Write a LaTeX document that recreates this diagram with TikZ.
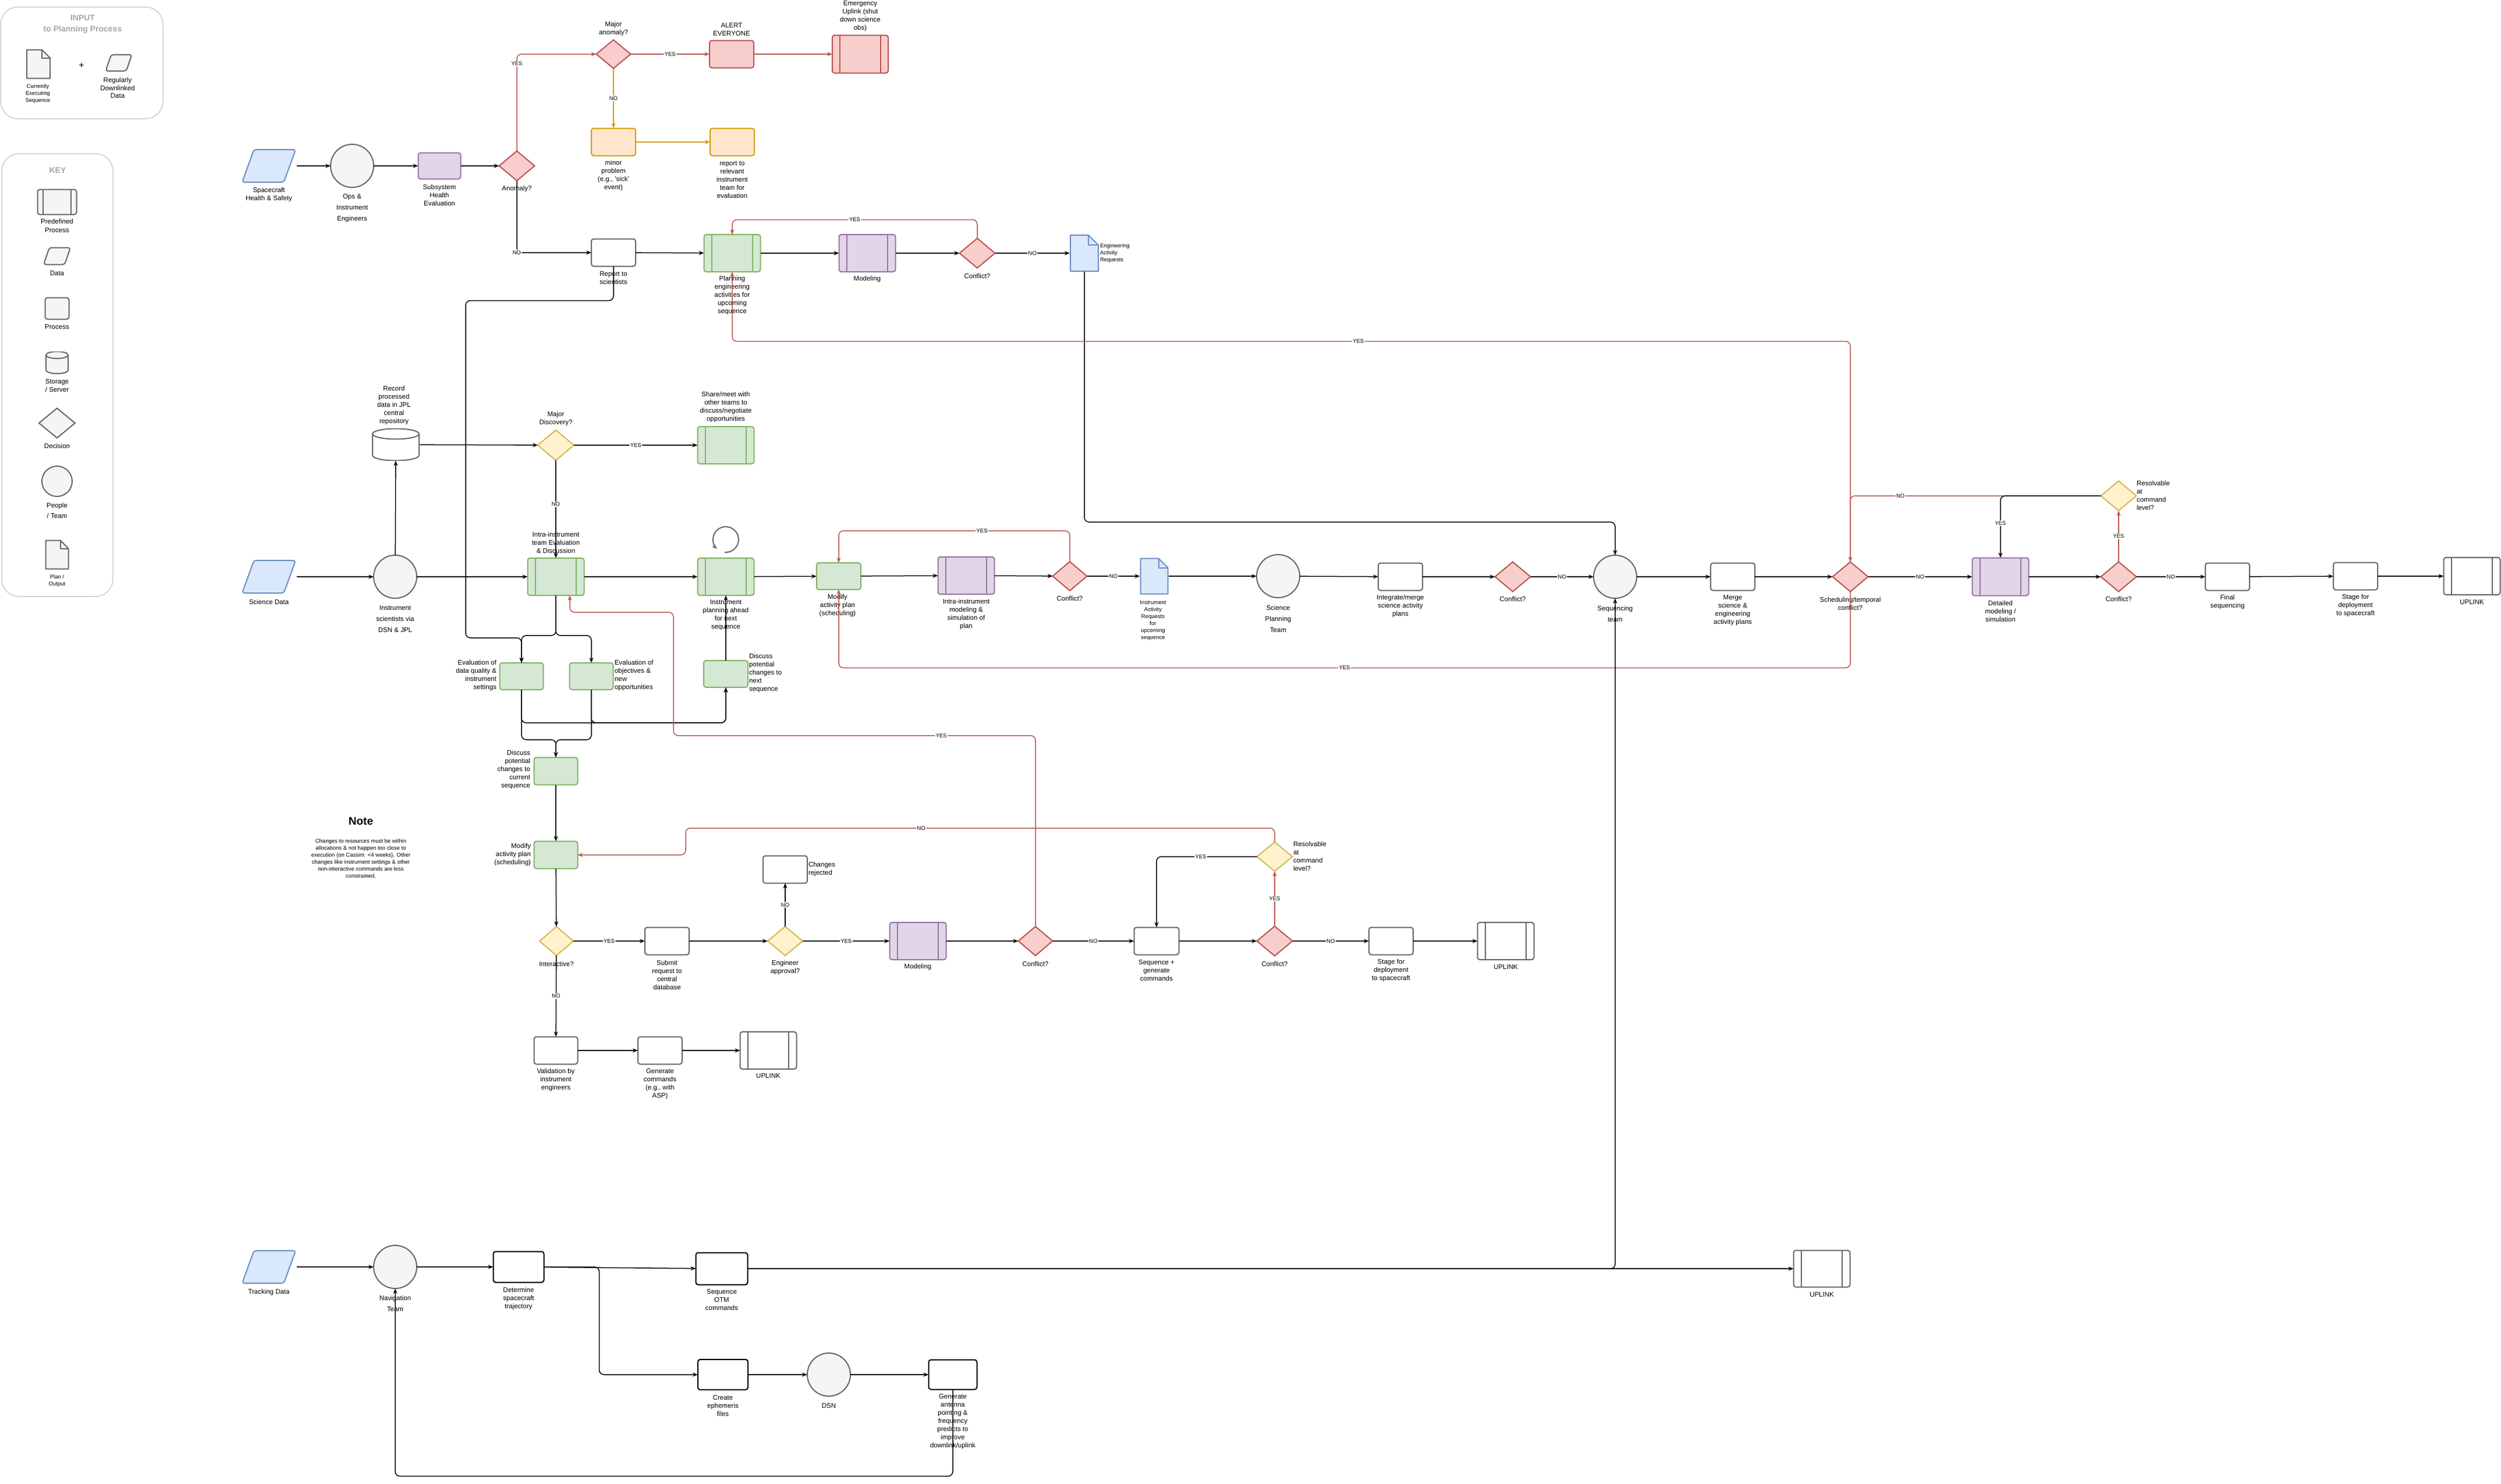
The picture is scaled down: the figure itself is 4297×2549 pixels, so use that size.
\documentclass[tikz,border=0pt]{standalone}
\usepackage{fontspec}
\setmainfont{Liberation Sans}
\usetikzlibrary{shapes.geometric,arrows.meta,calc}
\definecolor{blue1}{HTML}{DAE8FC}\definecolor{blue2}{HTML}{6C8EBF}
\definecolor{green1}{HTML}{D5E8D4}\definecolor{green2}{HTML}{82B366}
\definecolor{purple1}{HTML}{E1D5E7}\definecolor{purple2}{HTML}{9673A6}
\definecolor{red1}{HTML}{F8CECC}\definecolor{red2}{HTML}{B85450}
\definecolor{orange1}{HTML}{FFE6CC}\definecolor{orange2}{HTML}{D79B00}
\definecolor{yellow1}{HTML}{FFF2CC}\definecolor{yellow2}{HTML}{D6B656}
\definecolor{gray1}{HTML}{F5F5F5}\definecolor{gray2}{HTML}{666666}
\definecolor{keygray}{HTML}{CCCCCC}\definecolor{titlegray}{HTML}{A6A6A6}
\begin{document}
\begin{tikzpicture}[x=1pt,y=-1pt,inner sep=0pt,outer sep=0pt,
box/.style 2 args={rectangle,draw=#1,fill=#2,rounded corners=4pt,line width=2pt,minimum width=76pt,minimum height=47pt},
predef/.style 2 args={rectangle,draw=#1,fill=#2,rounded corners=4pt,line width=2pt,minimum width=97pt,minimum height=64pt,
  path picture={\draw[#1,line width=2pt]
    ($(path picture bounding box.north west)!0.135!(path picture bounding box.north east)$) -- ($(path picture bounding box.south west)!0.135!(path picture bounding box.south east)$)
    ($(path picture bounding box.north east)!0.135!(path picture bounding box.north west)$) -- ($(path picture bounding box.south east)!0.135!(path picture bounding box.south west)$);}},
decision/.style 2 args={diamond,draw=#1,fill=#2,line width=2pt,minimum width=61pt,minimum height=51pt},
team/.style={circle,draw=gray2,fill=gray1,line width=2pt,minimum size=74pt},
datashape/.style 2 args={rectangle,fill=white,minimum width=95pt,minimum height=59pt,path picture={
  \filldraw[draw=#1,fill=#2,line width=2pt,rounded corners=4pt,line join=round]
    ($(path picture bounding box.south west)+(1.5pt,1.5pt)$)
    -- ($(path picture bounding box.north west)!0.23!(path picture bounding box.north east)+(0pt,-1.5pt)$)
    -- ($(path picture bounding box.north east)+(-1.5pt,-1.5pt)$)
    -- ($(path picture bounding box.south east)!0.23!(path picture bounding box.south west)+(0pt,1.5pt)$) -- cycle;}},
store/.style n args={3}{rectangle,fill=white,minimum width=83pt,minimum height=55pt,path picture={
  \filldraw[draw=gray2,fill=#1,line width=2pt,line join=round]
    ($(path picture bounding box.north west)+(1.5pt,-#3)$) -- ($(path picture bounding box.south west)+(1.5pt,#3)$)
    arc[start angle=180,end angle=360,x radius=#2,y radius=#3]
    -- ($(path picture bounding box.north east)+(-1.5pt,-#3)$)
    arc[start angle=0,end angle=180,x radius=#2,y radius=#3] -- cycle;
  \draw[gray2,line width=2pt] ($(path picture bounding box.north west)+(1.5pt,-#3)$)
    arc[start angle=180,end angle=360,x radius=#2,y radius=#3];}},
page/.style n args={3}{rectangle,fill=white,path picture={
  \coordinate (pnw) at ([shift={(1pt,-1pt)}]path picture bounding box.north west);
  \coordinate (pne) at ([shift={(-1pt,-1pt)}]path picture bounding box.north east);
  \coordinate (pse) at ([shift={(-1pt,1pt)}]path picture bounding box.south east);
  \coordinate (psw) at ([shift={(1pt,1pt)}]path picture bounding box.south west);
  \filldraw[draw=#1,fill=#2,line width=2pt,line join=round] (pnw) -- ([xshift=-#3]pne) -- ([yshift=-#3]pne) -- (pse) -- (psw) -- cycle;
  \draw[#1,line width=2pt,line join=round] ([xshift=-#3]pne) -- ([shift={(-#3,-#3)}]pne) -- ([yshift=-#3]pne);}},
panel/.style={rectangle,draw=keygray,line width=1.5pt,rounded corners=30pt},
txt/.style={align=center,font=\fontsize{11.5}{14}\selectfont},
txtw/.style={align=center,font=\fontsize{11.5}{19}\selectfont},
txts/.style={align=center,font=\fontsize{9.5}{12}\selectfont},
yn/.style={fill=white,inner sep=1.5pt,font=\fontsize{9.5}{10}\selectfont},
flow/.style={-{Stealth[length=9pt,width=7pt]},line width=1.5pt,rounded corners=8pt},
redflow/.style={flow,draw=red2},
orangeflow/.style={flow,draw=orange2}]
\useasboundingbox (0,0) rectangle (4297,2549);

% input and key panels
\draw (140.5,108) node[panel,minimum width=279pt,minimum height=192pt] (input) {};
\draw (142,42) node[align=center,text=titlegray,font=\fontsize{14}{19}\selectfont\bfseries] (inputt) {INPUT\\to Planning Process};
\draw (66,110) node[page={gray2}{gray1}{14pt},minimum width=42pt,minimum height=51pt] (curseq) {};
\draw (65,161) node[txts] (curseql) {Currently\\Executing\\Sequence};
\draw (140,113) node[font=\fontsize{16}{16}\selectfont] (plus) {+};
\draw (204,108) node[datashape={gray2}{gray1},minimum width=48pt,minimum height=31pt] (regdata) {};
\draw (202,151) node[align=center,font=\fontsize{11.5}{13.5}\selectfont] (regdatal) {Regularly\\Downlinked\\Data};

\draw (98.5,644.5) node[panel,minimum width=191pt,minimum height=761pt] (key) {};
\draw (99,293) node[text=titlegray,font=\fontsize{14}{19}\selectfont\bfseries] (keyt) {KEY};
\draw (98,347) node[predef={gray2}{gray1},minimum width=67pt,minimum height=43pt] (kpre) {};
\draw (98,388) node[align=center,font=\fontsize{11.5}{15}\selectfont] (kprel) {Predefined\\Process};
\draw (98,440) node[datashape={gray2}{gray1},minimum width=49pt,minimum height=32pt] (kdata) {};
\draw (98,470) node[txt] (kdatal) {Data};
\draw (98,530) node[box={gray2}{gray1},minimum width=41pt,minimum height=37pt] (kproc) {};
\draw (98,562) node[txt] (kprocl) {Process};
\draw (98,623) node[store={gray1}{19pt}{6pt},minimum width=41pt,minimum height=38pt] (kstore) {};
\draw (98,663) node[txt] (kstorel) {Storage\\/ Server};
\draw (98,727) node[decision={gray2}{gray1},minimum width=62pt] (kdec) {};
\draw (98,766) node[txt] (kdecl) {Decision};
\draw (98,827) node[team,minimum size=52pt] (kteam) {};
\draw (98,877) node[align=center,font=\fontsize{11.5}{18}\selectfont] (kteaml) {People\\/ Team};
\draw (98,953) node[page={gray2}{gray1}{14pt},minimum width=41pt,minimum height=51pt] (kplan) {};
\draw (98,998) node[txts] (kplanl) {Plan /\\Output};

% spacecraft health and safety
\draw (462,285) node[datashape={blue2}{blue1}] (sc) {};
\draw (462,335) node[txt] (scl) {Spacecraft\\Health \& Safety};
\draw (605,285) node[team] (ops) {};
\draw (605,358) node[txtw] (opsl) {Ops \&\\Instrument\\Engineers};
\draw (755,285) node[box={purple2}{purple1},minimum width=73pt,minimum height=45pt] (subsys) {};
\draw (755,335) node[txt] (subsysl) {Subsystem\\Health\\Evaluation};
\draw (888,285) node[decision={red2}{red1}] (anomaly) {};
\draw (888,325) node[txt] (anomalyl) {Anomaly?};
\draw (1054,93) node[decision={red2}{red1},minimum width=59pt,minimum height=49pt] (major) {};
\draw (1054,50) node[txt] (majorl) {Major\\anomaly?};
\draw (1257,93) node[box={red2}{red1}] (alert) {};
\draw (1257,51) node[txt] (alertl) {ALERT\\EVERYONE};
\draw (1478,93) node[predef={red2}{red1},minimum width=96pt,minimum height=65pt] (emerg) {};
\draw (1478,28) node[txt] (emergl) {Emergency\\Uplink (shut\\down science\\obs)};
\draw (1054,244) node[box={orange2}{orange1}] (minor) {};
\draw (1054,302) node[txt] (minorl) {minor\\problem\\(e.g., 'sick'\\event)};
\draw (1258,244) node[box={orange2}{orange1}] (relrep) {};
\draw (1258,309) node[txt] (relrepl) {report to\\relevant\\instrument\\team for\\evaluation};
\draw (1054,434) node[box={gray2}{white}] (repsci) {};
\draw (1054,478) node[txt] (repscil) {Report to\\scientists};
\draw (1258,435) node[predef={green2}{green1}] (planeng) {};
\draw (1258,508) node[txt] (planengl) {Planning\\engineering\\activities for\\upcoming\\sequence};
\draw (1490,435) node[predef={purple2}{purple1}] (model1) {};
\draw (1490,480) node[txt] (model1l) {Modeling};
\draw (1679,435) node[decision={red2}{red1}] (conflict1) {};
\draw (1679,474) node[txt] (conflict1l) {Conflict?};
\draw (1863,435) node[page={blue2}{blue1}{17pt},minimum width=50pt,minimum height=64pt] (ear) {};
\draw (1890,435) node[txts,anchor=west,align=left] (earl) {Engineering\\Activity\\Requests};

% science data
\draw (680,764) node[store={white}{40pt}{9pt}] (rec) {};
\draw (677,697) node[txt] (recl) {Record\\processed\\data in JPL\\central\\repository};
\draw (955,765) node[decision={yellow2}{yellow1},minimum width=62pt,minimum height=52pt] (discovery) {};
\draw (955,720) node[txt] (discoveryl) {Major\\Discovery?};
\draw (1247,765) node[predef={green2}{green1}] (share) {};
\draw (1247,700) node[txt] (sharel) {Share/meet with\\other teams to\\discuss/negotiate\\opportunities};
\draw (462,991) node[datashape={blue2}{blue1}] (scidata) {};
\draw (462,1034) node[txt] (scidatal) {Science Data};
\draw (679,991) node[team] (instsci) {};
\draw (679,1064) node[txtw] (instscil) {Instrument\\scientists via\\DSN \& JPL};
\draw (955,991) node[predef={green2}{green1}] (intraeval) {};
\draw (955,932) node[txt] (intraevall) {Intra-instrument\\team Evaluation\\\& Discussion};
\draw (1247,991) node[predef={green2}{green1}] (planahead) {};
\draw (1247,1057) node[txt] (planaheadl) {Instrument\\planning ahead\\for next\\sequence};
\draw[gray2,line width=2pt,-{Stealth[length=9pt,width=7pt]}] (1245,949) arc[start angle=95,end angle=-227,radius=22];
\draw (1441,990) node[box={green2}{green1},minimum height=46pt] (modify1) {};
\draw (1439,1041) node[txt] (modify1l) {Modify\\activity plan\\(scheduling)};
\draw (1660,989) node[predef={purple2}{purple1}] (intramodel) {};
\draw (1660,1056) node[txt] (intramodell) {Intra-instrument\\modeling \&\\simulation of\\plan};
\draw (1838,990) node[decision={red2}{red1},minimum width=59pt,minimum height=50pt] (conflict2) {};
\draw (1838,1028) node[txt] (conflict2l) {Conflict?};
\draw (1983,990) node[page={blue2}{blue1}{16pt},minimum width=49pt,minimum height=63pt] (iar) {};
\draw (1981,1066) node[txts] (iarl) {Instrument\\Activity\\Requests\\for\\upcoming\\sequence};
\draw (2196,990) node[team] (sciplan) {};
\draw (2196,1063) node[txtw] (sciplanl) {Science\\Planning\\Team};
\draw (2406,991) node[box={gray2}{white}] (integrate) {};
\draw (2406,1042) node[txt] (integratel) {Integrate/merge\\science activity\\plans};
\draw (2599,991) node[decision={red2}{red1}] (conflict3) {};
\draw (2599,1029) node[txt] (conflict3l) {Conflict?};
\draw (2775,991) node[team] (seqteam) {};
\draw (2775,1055) node[txtw] (seqteaml) {Sequencing\\team};
\draw (2977,991) node[box={gray2}{white}] (merge) {};
\draw (2977,1049) node[txt] (mergel) {Merge\\science \&\\engineering\\activity plans};
\draw (3179,991) node[decision={red2}{red1}] (schedconf) {};
\draw (3179,1037) node[txt] (schedconfl) {Scheduling/temporal\\conflict?};
\draw (3437,991) node[predef={purple2}{purple1},minimum height=65pt] (detmodel) {};
\draw (3437,1050) node[txt] (detmodell) {Detailed\\modeling /\\simulation};
\draw (3640,991) node[decision={red2}{red1}] (conflict4) {};
\draw (3640,1029) node[txt] (conflict4l) {Conflict?};
\draw (3640,852) node[decision={yellow2}{yellow1}] (resolv1) {};
\draw (3671,851) node[txt,anchor=west,align=left] (resolv1l) {Resolvable\\at\\command\\level?};
\draw (3827,991) node[box={gray2}{white}] (finalseq) {};
\draw (3827,1035) node[txt] (finalseql) {Final\\sequencing};
\draw (4047,990) node[box={gray2}{white}] (stage1) {};
\draw (4047,1041) node[txt] (stage1l) {Stage for\\deployment\\to spacecraft};
\draw (4247,990) node[predef={gray2}{white}] (uplink1) {};
\draw (4247,1035) node[txt] (uplink1l) {UPLINK};

% evaluation and discussion
\draw (896,1162) node[box={green2}{green1},minimum width=75pt,minimum height=46pt] (evaldq) {};
\draw (853,1161) node[txt,anchor=east,align=right] (evaldql) {Evaluation of\\data quality \&\\instrument\\settings};
\draw (1016,1162) node[box={green2}{green1},minimum width=75pt,minimum height=46pt] (evalobj) {};
\draw (1056,1161) node[txt,anchor=west,align=left] (evalobjl) {Evaluation of\\objectives \&\\new\\opportunities};
\draw (1247,1158) node[box={green2}{green1},minimum width=76pt,minimum height=46pt] (discnext) {};
\draw (1287,1157) node[txt,anchor=west,align=left] (discnextl) {Discuss\\potential\\changes to\\next\\sequence};
\draw (955,1325) node[box={green2}{green1},minimum width=75pt] (disccur) {};
\draw (911,1323) node[txt,anchor=east,align=right] (disccurl) {Discuss\\potential\\changes to\\current\\sequence};

% note
\draw (620,1411) node[font=\fontsize{19}{22}\selectfont\bfseries] (notet) {Note};
\draw (620,1475) node[txts] (notel) {Changes to resources must be within\\allocations \& not happen too close to\\execution (on Cassini: <4 weeks). Other\\changes like instrument settings \& other\\non-interactive commands are less\\constrained.};

% current sequence changes
\draw (955,1469) node[box={green2}{green1},minimum width=75pt] (modify2) {};
\draw (912,1469) node[txt,anchor=east,align=right] (modify2l) {Modify\\activity plan\\(scheduling)};
\draw (956,1617) node[decision={yellow2}{yellow1},minimum width=58pt,minimum height=50pt] (interactive) {};
\draw (956,1656) node[txt] (interactivel) {Interactive?};
\draw (1146,1617) node[box={gray2}{white}] (submit) {};
\draw (1146,1675) node[txt] (submitl) {Submit\\request to\\central\\database};
\draw (1349,1617) node[decision={yellow2}{yellow1},minimum width=60pt,minimum height=50pt] (engappr) {};
\draw (1349,1663) node[txt] (engapprl) {Engineer\\approval?};
\draw (1349,1494) node[box={gray2}{white}] (rejected) {};
\draw (1389,1494) node[txt,anchor=west,align=left] (rejectedl) {Changes\\rejected};
\draw (1577,1617) node[predef={purple2}{purple1}] (model2) {};
\draw (1577,1662) node[txt] (model2l) {Modeling};
\draw (1779,1617) node[decision={red2}{red1},minimum width=59pt,minimum height=50pt] (conflict5) {};
\draw (1779,1656) node[txt] (conflict5l) {Conflict?};
\draw (1987,1617) node[box={gray2}{white},minimum width=77pt] (seqgen) {};
\draw (1987,1668) node[txt] (seqgenl) {Sequence +\\generate\\commands};
\draw (2190,1617) node[decision={red2}{red1}] (conflict6) {};
\draw (2190,1656) node[txt] (conflict6l) {Conflict?};
\draw (2190,1472) node[decision={yellow2}{yellow1},minimum height=50pt] (resolv2) {};
\draw (2222,1471) node[txt,anchor=west,align=left] (resolv2l) {Resolvable\\at\\command\\level?};
\draw (2390,1617) node[box={gray2}{white}] (stage2) {};
\draw (2390,1668) node[txt] (stage2l) {Stage for\\deployment\\to spacecraft};
\draw (2587,1617) node[predef={gray2}{white}] (uplink3) {};
\draw (2587,1662) node[txt] (uplink3l) {UPLINK};
\draw (955,1805) node[box={gray2}{white},minimum width=75pt] (valid) {};
\draw (955,1856) node[txt] (validl) {Validation by\\instrument\\engineers};
\draw (1134,1805) node[box={gray2}{white}] (gencmd) {};
\draw (1134,1863) node[txt] (gencmdl) {Generate\\commands\\(e.g., with\\ASP)};
\draw (1320,1805) node[predef={gray2}{white}] (uplink2) {};
\draw (1320,1849) node[txt] (uplink2l) {UPLINK};

% navigation
\draw (462,2177) node[datashape={blue2}{blue1}] (track) {};
\draw (462,2220) node[txt] (trackl) {Tracking Data};
\draw (679,2177) node[team] (nav) {};
\draw (679,2240) node[txtw] (navl) {Navigation\\Team};
\draw (891,2177) node[box={black}{white},minimum width=87pt,minimum height=53pt] (determine) {};
\draw (891,2231) node[txt] (determinel) {Determine\\spacecraft\\trajectory};
\draw (1240,2180) node[box={black}{white},minimum width=89pt,minimum height=55pt] (seqotm) {};
\draw (1240,2234) node[txt] (seqotml) {Sequence\\OTM\\commands};
\draw (1242,2362) node[box={black}{white},minimum width=86pt,minimum height=52pt] (ephem) {};
\draw (1242,2416) node[txt] (ephemel) {Create\\ephemeris\\files};
\draw (1424,2362) node[team] (dsn) {};
\draw (1424,2416) node[txt] (dsnl) {DSN};
\draw (1637,2362) node[box={black}{white},minimum width=83pt,minimum height=51pt] (antenna) {};
\draw (1637,2443) node[txt] (antennal) {Generate\\antenna\\pointing \&\\frequency\\predicts to\\improve\\downlink/uplink};
\draw (3130,2180) node[predef={gray2}{white},minimum height=63pt] (uplink4) {};
\draw (3130,2225) node[txt] (uplink4l) {UPLINK};

\coordinate (rsbend) at (800,1096);
\coordinate (yesbend) at (1157,1052);
\coordinate (nobend) at (1178,1423);

% connectors, health and safety
\draw[flow] (sc) -- (ops);
\draw[flow] (ops) -- (subsys);
\draw[flow] (subsys) -- (anomaly);
\draw[redflow] (anomaly.north) |- node[yn,pos=0.45] {YES} (major.west);
\draw[redflow] (major) -- node[yn] {YES} (alert);
\draw[redflow] (alert) -- (emerg);
\draw[orangeflow] (major) -- node[yn] {NO} (minor);
\draw[orangeflow] (minor) -- (relrep);
\draw[flow] (anomaly.south) |- node[yn] {NO} (repsci.west);
\draw[flow] (repsci) -- (planeng);
\draw[flow] (planeng) -- (model1);
\draw[flow] (model1) -- (conflict1);
\draw[flow] (conflict1) -- node[yn] {NO} (ear);
\draw[redflow] (conflict1.north) -- ++(0,-32) -| node[yn,pos=0.25] {YES} (planeng.north);
\draw[flow] (repsci.south) -- ++(0,59) -| (rsbend) -| (evaldq.north);
\draw[flow] (ear.south) -- ++(0,430) -| (seqteam.north);

% connectors, science planning
\draw[flow] (scidata) -- (instsci);
\draw[flow] (instsci) -- (rec);
\draw[flow] (rec) -- (discovery);
\draw[flow] (discovery) -- node[yn] {YES} (share);
\draw[flow] (discovery) -- node[yn,pos=0.45] {NO} (intraeval);
\draw[flow] (instsci) -- (intraeval);
\draw[flow] (intraeval) -- (planahead);
\draw[flow] (planahead) -- (modify1);
\draw[flow] (modify1) -- (intramodel);
\draw[flow] (intramodel) -- (conflict2);
\draw[flow] (conflict2) -- node[yn] {NO} (iar);
\draw[flow] (iar) -- (sciplan);
\draw[flow] (sciplan) -- (integrate);
\draw[flow] (integrate) -- (conflict3);
\draw[flow] (conflict3) -- node[yn] {NO} (seqteam);
\draw[flow] (seqteam) -- (merge);
\draw[flow] (merge) -- (schedconf);
\draw[flow] (schedconf) -- node[yn] {NO} (detmodel);
\draw[flow] (detmodel) -- (conflict4);
\draw[flow] (conflict4) -- node[yn] {NO} (finalseq);
\draw[flow] (finalseq) -- (stage1);
\draw[flow] (stage1) -- (uplink1);
\draw[redflow] (conflict4) -- node[yn] {YES} (resolv1);
\draw[redflow] (resolv1.west) -| node[yn,pos=0.4] {NO} (schedconf.north);
\draw[flow] (resolv1.west) -| node[yn,pos=0.72] {YES} (detmodel.north);
\draw[redflow] (schedconf.north) -- ++(0,-379) -| node[yn,pos=0.22] {YES} (planeng.south);
\draw[redflow] (schedconf.south) -- ++(0,131) -| node[yn,pos=0.25] {YES} (modify1.south);
\draw[redflow] (conflict2.north) -- ++(0,-53) -| node[yn,pos=0.19] {YES} (modify1.north);

% connectors, evaluation
\draw[flow] (intraeval.south) -- ++(0,69) -| (evaldq.north);
\draw[flow] (intraeval.south) -- ++(0,69) -| (evalobj.north);
\draw[flow] (evaldq.south) -- ++(0,57) -| (discnext.south);
\draw[flow] (evalobj.south) -- ++(0,57) -| (discnext.south);
\draw[flow] (evaldq.south) -- ++(0,86) -| (disccur.north);
\draw[flow] (evalobj.south) -- ++(0,86) -| (disccur.north);
\draw[flow] (discnext) -- (planahead);
\draw[flow] (disccur) -- (modify2);
\draw[redflow] (conflict5.north) -- ++(0,-328) -| node[yn,pos=0.13] {YES} (yesbend) -| ($(intraeval.south)+(24,0)$);

% connectors, current sequence
\draw[flow] (modify2) -- (interactive);
\draw[flow] (interactive) -- node[yn] {YES} (submit);
\draw[flow] (interactive) -- node[yn] {NO} (valid);
\draw[flow] (submit) -- (engappr);
\draw[flow] (engappr) -- node[yn] {NO} (rejected);
\draw[flow] (engappr) -- node[yn] {YES} (model2);
\draw[flow] (model2) -- (conflict5);
\draw[flow] (conflict5) -- node[yn] {NO} (seqgen);
\draw[flow] (seqgen) -- (conflict6);
\draw[flow] (conflict6) -- node[yn] {NO} (stage2);
\draw[flow] (stage2) -- (uplink3);
\draw[redflow] (conflict6) -- node[yn] {YES} (resolv2);
\draw[flow] (resolv2.west) -| node[yn,pos=0.28] {YES} (seqgen.north);
\draw[redflow] (resolv2.north) |- node[yn,pos=0.8] {NO} (nobend) |- (modify2.east);
\draw[flow] (valid) -- (gencmd);
\draw[flow] (gencmd) -- (uplink2);

% connectors, navigation
\draw[flow] (track) -- (nav);
\draw[flow] (nav) -- (determine);
\draw[flow] (determine) -- (seqotm);
\draw[flow] (determine.east) -- ++(95,0) |- (ephem.west);
\draw[flow] (ephem) -- (dsn);
\draw[flow] (dsn) -- (antenna);
\draw[flow] (antenna.south) -- ++(0,149) -| (nav.south);
\draw[flow] (seqotm.east) -| (seqteam.south);
\draw[flow] (seqotm) -- (uplink4);
\end{tikzpicture}
\end{document}
